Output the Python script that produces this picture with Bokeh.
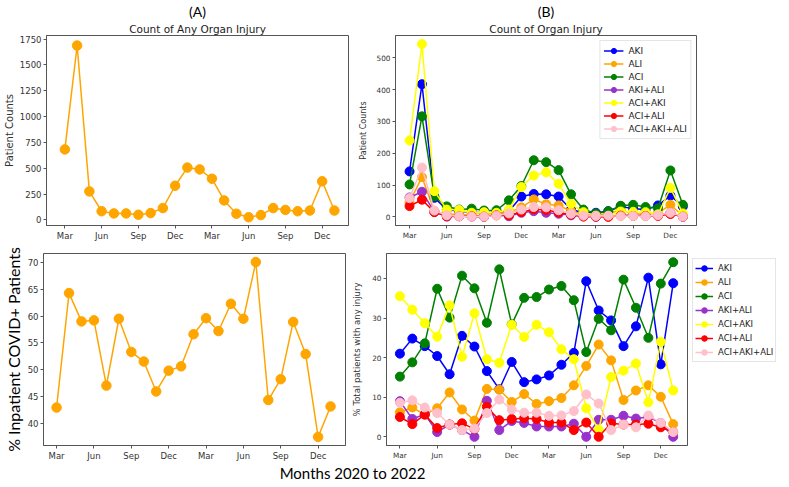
from bokeh.plotting import figure
from bokeh.models import FixedTicker, Label, Legend, LegendItem, Range1d, Title
from bokeh.layouts import column, row
from bokeh.embed import file_html
from bokeh.resources import INLINE

# ---------------- data ----------------
months = list(range(23))  # Mar 2020 ... Jan 2022
tick_positions = [0, 3, 6, 9, 12, 15, 18, 21]
tick_labels = ["Mar", "Jun", "Sep", "Dec", "Mar", "Jun", "Sep", "Dec"]

any_injury_counts = [682, 1688, 275, 83, 62, 62, 49, 65, 114, 330, 506, 488, 398,
                     188, 59, 25, 46, 114, 96, 83, 90, 373, 90]
pct_inpatient = [42.9, 64.3, 59.0, 59.2, 47.0, 59.5, 53.3, 51.5, 45.9, 49.8, 50.6, 56.6,
                 59.6, 57.2, 62.3, 59.5, 70.1, 44.3, 48.2, 58.9, 52.9, 37.4, 43.1]

series_names = ["AKI", "ALI", "ACI", "AKI+ALI", "ACI+AKI", "ACI+ALI", "ACI+AKI+ALI"]
series_colors = ["blue", "orange", "green", "darkorchid", "yellow", "red", "pink"]

cnt_aki = [143, 417, 60, 23, 18, 15, 13, 15, 18, 64, 72, 71, 64, 23, 13, 13, 18, 33, 26, 23, 36, 67, 33]
cnt_ali = [46, 125, 18, 8, 8, 5, 3, 8, 14, 30, 55, 40, 36, 18, 8, 5, 11, 22, 9, 10, 12, 38, 3]
cnt_aci = [102, 316, 64, 33, 23, 26, 20, 21, 52, 97, 178, 172, 147, 71, 23, 11, 18, 35, 38, 31, 27, 146, 38]
cnt_aki_ali = [61, 79, 16, 1, 2, 1, 0, 6, 2, 13, 18, 13, 10, 5, 2, 0, 2, 5, 5, 4, 5, 13, 0]
cnt_aci_aki = [240, 543, 81, 23, 22, 13, 15, 13, 23, 94, 130, 140, 104, 41, 15, 4, 2, 17, 16, 15, 8, 91, 11]
cnt_aci_ali = [34, 54, 15, 2, 2, 2, 1, 5, 5, 15, 24, 22, 14, 7, 1, 1, 0, 4, 3, 3, 3, 9, 1]
cnt_aci_aki_ali = [59, 155, 20, 5, 2, 1, 1, 4, 11, 23, 31, 30, 21, 10, 4, 3, 4, 2, 3, 2, 5, 13, 1]

pct_aki = [21.0, 24.8, 22.9, 20.4, 15.8, 25.5, 22.8, 16.6, 12.0, 18.9, 13.8, 14.5, 15.5, 18.2,
           21.2, 39.3, 31.9, 29.4, 22.9, 27.9, 40.2, 18.3, 38.8]
pct_ali = [6.2, 7.4, 5.6, 7.2, 11.2, 6.9, 4.1, 12.1, 11.9, 8.8, 10.8, 8.3, 9.0, 9.8,
           13.0, 17.9, 23.3, 19.3, 9.3, 11.7, 13.0, 10.1, 3.2]
pct_aci = [15.2, 18.8, 23.6, 37.4, 30.1, 40.7, 37.5, 28.8, 42.3, 28.4, 35.1, 35.3, 37.2, 38.1,
           34.5, 21.4, 29.8, 26.9, 39.7, 32.6, 25.0, 38.7, 44.1]
pct_aki_ali = [9.0, 4.5, 5.7, 1.2, 3.1, 1.7, 0.0, 9.1, 1.7, 4.0, 3.5, 2.6, 2.6, 2.6,
               3.3, 0.0, 4.3, 4.3, 5.3, 4.6, 5.0, 3.5, 0.0]
pct_aci_aki = [35.5, 32.1, 28.7, 25.3, 33.2, 20.2, 31.2, 19.6, 18.7, 28.3, 25.2, 28.3, 26.4, 22.1,
               19.6, 7.2, 1.8, 15.1, 16.7, 18.5, 8.7, 24.0, 11.7]
pct_aci_ali = [5.0, 3.2, 5.6, 2.2, 3.1, 3.4, 2.0, 7.6, 4.2, 4.5, 4.7, 4.5, 3.6, 3.6,
               1.7, 3.6, 0.0, 3.4, 3.1, 3.1, 3.3, 2.4, 1.2]
pct_aci_aki_ali = [8.6, 9.2, 7.4, 6.0, 3.1, 1.7, 2.1, 6.0, 9.4, 6.9, 6.1, 6.1, 5.3, 5.4,
                   6.5, 10.7, 8.4, 1.7, 3.1, 2.4, 5.4, 3.5, 1.2]

counts_series = [cnt_aki, cnt_ali, cnt_aci, cnt_aki_ali, cnt_aci_aki, cnt_aci_ali, cnt_aci_aki_ali]
pct_series = [pct_aki, pct_ali, pct_aci, pct_aki_ali, pct_aci_aki, pct_aci_ali, pct_aci_aki_ali]

yticks_any = [0, 250, 500, 750, 1000, 1250, 1500, 1750]
yticks_cnt = [0, 100, 200, 300, 400, 500]
yticks_pct_inp = [40, 45, 50, 55, 60, 65, 70]
yticks_pct_tot = [0, 10, 20, 30, 40]

# ---------------- helpers ----------------
FRAME = "#555555"
TXT = "#333333"


def make_fig(fw, fh, left, right, top, bottom, xr, yr, yticks, tick_fs, title=None):
    p = figure(frame_width=fw, frame_height=fh, min_border_left=left, min_border_right=right,
               min_border_top=top, min_border_bottom=bottom,
               x_range=Range1d(*xr), y_range=Range1d(*yr),
               output_backend="svg", toolbar_location=None, title=title)
    p.xgrid.visible = False
    p.ygrid.visible = False
    p.outline_line_color = FRAME
    p.outline_line_width = 1
    p.background_fill_color = "white"
    p.border_fill_color = "white"
    p.xaxis.ticker = FixedTicker(ticks=tick_positions)
    p.xaxis.major_label_overrides = {t: l for t, l in zip(tick_positions, tick_labels)}
    p.yaxis.ticker = FixedTicker(ticks=yticks)
    for ax in (p.xaxis, p.yaxis):
        ax.axis_line_color = FRAME
        ax.major_tick_line_color = FRAME
        ax.major_tick_out = 3
        ax.major_tick_in = 0
        ax.minor_tick_line_color = None
        ax.major_label_text_font = "DejaVu Sans"
        ax.major_label_text_font_size = tick_fs
        ax.major_label_text_color = TXT
        ax.major_label_standoff = 2
        ax.axis_label_text_font_style = "normal"
        ax.axis_label_text_color = TXT
        ax.axis_label_standoff = 2
    if title is not None:
        # outer title: panel letter
        p.title.text_font = "Lato"
        p.title.text_font_size = "14px"
        p.title.text_font_style = "normal"
        p.title.text_color = "black"
        p.title.align = "center"
        p.title.standoff = 0
    return p


def sub_title(p, text):
    p.add_layout(Title(text=text, text_font="DejaVu Sans", text_font_size="10.5px",
                       text_font_style="normal", text_color="#222222", align="center",
                       standoff=2), "above")


def make_legend(items, fs, gw, gh, padding):
    return Legend(items=items, label_text_font="DejaVu Sans", label_text_font_size=fs,
                  label_text_color="#222222", glyph_width=gw, glyph_height=gh,
                  label_height=gh, spacing=0, padding=padding, margin=5,
                  label_standoff=5, border_line_color="#cccccc", border_line_width=1,
                  background_fill_alpha=0.9)


# ---------------- (A) top: any organ injury counts ----------------
f1 = make_fig(302, 190, 38, 7, 30, 16, (-1.5, 23.15), (-55, 1785), yticks_any, "8.5px",
              title="(A)")
sub_title(f1, "Count of Any Organ Injury")
f1.line(months, any_injury_counts, line_color="orange", line_width=1.5)
f1.scatter(months, any_injury_counts, size=9.5, fill_color="orange", line_color="orange")
f1.yaxis.axis_label = "Patient Counts"
f1.yaxis.axis_label_text_font = "DejaVu Sans"
f1.yaxis.axis_label_text_font_size = "10px"

# ---------------- (B) top: counts by organ injury ----------------
f2 = make_fig(301, 190, 40, 85, 30, 16, (-1.13, 23.1), (-27, 570), yticks_cnt, "7.3px",
              title="(B)")
sub_title(f2, "Count of Organ Injury")
f2.yaxis.axis_label = "Patient Counts"
f2.yaxis.axis_label_text_font = "DejaVu Sans"
f2.yaxis.axis_label_text_font_size = "8px"
f2.yaxis.axis_label_standoff = 6
items2 = []
for name, col, vals in zip(series_names, series_colors, counts_series):
    l = f2.line(months, vals, line_color=col, line_width=1.5)
    s = f2.scatter(months, vals, size=9, fill_color=col, line_color=col)
    items2.append(LegendItem(label=name, renderers=[l, s]))
leg2 = make_legend(items2, "9px", 20, 13, 3)
leg2.location = "top_right"
f2.add_layout(leg2)

# ---------------- (A) bottom: % inpatient ----------------
f3 = make_fig(302, 192, 41, 4, 10, 15, (-1.05, 23.2), (35.8, 71.7), yticks_pct_inp, "8.5px")
f3.line(months, pct_inpatient, line_color="orange", line_width=1.5)
f3.scatter(months, pct_inpatient, size=9.5, fill_color="orange", line_color="orange")
f3.yaxis.axis_label = "% Inpatient COVID+ Patients"
f3.yaxis.axis_label_text_font = "Lato"
f3.yaxis.axis_label_text_font_size = "16px"
f3.yaxis.axis_label_text_color = "black"

# ---------------- (B) bottom: % by organ injury ----------------
f4 = make_fig(301, 192, 35, 90, 10, 15, (-1.08, 23.15), (-2.2, 46.3), yticks_pct_tot, "7.3px")
f4.yaxis.axis_label = "% Total patients with any injury"
f4.yaxis.axis_label_text_font = "DejaVu Sans"
f4.yaxis.axis_label_text_font_size = "8.5px"
f4.yaxis.axis_label_standoff = 7
items4 = []
for name, col, vals in zip(series_names, series_colors, pct_series):
    l = f4.line(months, vals, line_color=col, line_width=1.5)
    s = f4.scatter(months, vals, size=9, fill_color=col, line_color=col)
    items4.append(LegendItem(label=name, renderers=[l, s]))
leg4 = make_legend(items4, "8.5px", 18, 14, 2)
leg4.location = "top_left"
f4.add_layout(leg4, "right")

# ---------------- shared x label ----------------
f5 = figure(width=773, height=18, x_range=Range1d(0, 773), y_range=Range1d(0, 18),
            x_axis_location=None, y_axis_location=None, min_border=0,
            output_backend="svg", toolbar_location=None, title=None)
f5.xgrid.visible = False
f5.ygrid.visible = False
f5.outline_line_color = None
f5.add_layout(Label(x=352, y=9, text="Months 2020 to 2022", text_font="Lato",
                    text_font_size="15px", text_color="black",
                    text_align="center", text_baseline="middle"))

layout = column(row(f1, f2), row(f3, f4), f5)
open("out.html", "w").write(file_html(layout, INLINE))
